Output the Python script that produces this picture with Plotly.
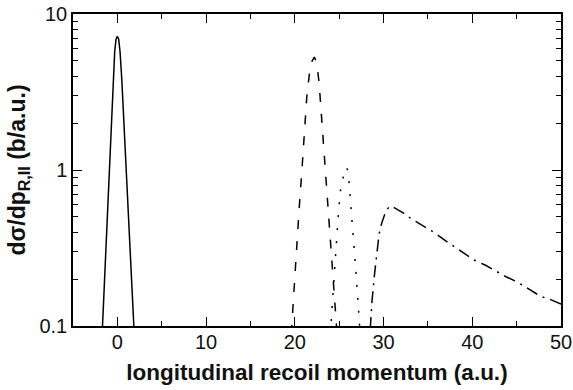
import plotly.graph_objects as go

# Solid curve (peak near 0)
x_solid = [-1.7, -1.3, -0.9, -0.5, -0.3, -0.15, 0.0, 0.15, 0.3, 0.5, 0.95, 1.4, 1.9]
y_solid = [0.093, 0.32, 1.12, 3.6, 5.75, 6.9, 7.2, 6.9, 5.75, 3.8, 1.2, 0.35, 0.089]

# Dashed curve (peak near 22)
x_dash = [19.6, 19.83, 20.14, 20.48, 20.85, 21.15, 21.35, 21.65, 21.95, 22.2,
          22.48, 22.74, 22.93, 23.11, 23.27, 23.45, 23.6, 23.87, 24.1, 24.29, 24.47, 24.7]
y_dash = [0.089, 0.147, 0.285, 0.555, 1.10, 2.14, 2.95, 4.17, 5.0, 5.3,
          4.83, 3.6, 2.55, 1.85, 1.31, 0.953, 0.675, 0.479, 0.302, 0.209, 0.151, 0.1]

# Dotted curve (peak near 25.8)
x_dot = [24.0, 24.3, 24.6, 24.9, 25.15, 25.4, 25.6, 25.8, 25.95, 26.1, 26.3, 26.55, 26.8, 27.05, 27.3]
y_dot = [0.089, 0.166, 0.295, 0.513, 0.74, 0.9, 0.99, 1.04, 1.0, 0.85, 0.62, 0.41, 0.26, 0.165, 0.1]

# Dash-dot curve (peak near 30.8, long tail)
x_dd = [28.5, 28.7, 29.0, 29.2, 29.5, 29.8, 30.1, 30.5, 30.8, 31.3, 32.3, 33.2, 34.35, 35.7,
        37.4, 39.25, 40.2, 41.5, 42.65, 43.8, 45.1, 46.2, 47.7, 48.9, 50.0]
y_dd = [0.0955, 0.1445, 0.219, 0.275, 0.389, 0.457, 0.513, 0.569, 0.589, 0.569, 0.527, 0.483,
        0.444, 0.398, 0.339, 0.288, 0.265, 0.245, 0.225, 0.207, 0.191, 0.175, 0.155, 0.147, 0.138]

x_ticks = [0, 10, 20, 30, 40, 50]
x_minor = [-5, 5, 15, 25, 35, 45]
y_ticks = [0.1, 1, 10]
y_tick_labels = ["0.1", "1", "10"]
y_minor = [0.2, 0.3, 0.4, 0.5, 0.6, 0.7, 0.8, 0.9, 2, 3, 4, 5, 6, 7, 8, 9]

FONT = "Liberation Sans, Arial, sans-serif"

fig = go.Figure()
fig.add_trace(go.Scatter(x=x_solid, y=y_solid, mode="lines",
                         line=dict(color="black", width=1.5)))
fig.add_trace(go.Scatter(x=x_dash, y=y_dash, mode="lines",
                         line=dict(color="black", width=1.5, dash="9px,12px")))
fig.add_trace(go.Scatter(x=x_dot, y=y_dot, mode="lines",
                         line=dict(color="black", width=1.5, dash="2px,11px")))
fig.add_trace(go.Scatter(x=x_dd, y=y_dd, mode="lines",
                         line=dict(color="black", width=1.5, dash="12px,6px,2px,6px")))

fig.update_layout(
    width=573, height=390,
    margin=dict(l=73, r=12, t=14, b=64),
    paper_bgcolor="white", plot_bgcolor="white",
    showlegend=False,
    font=dict(family=FONT, size=20, color="#111"),
)
fig.update_xaxes(
    range=[-5, 50], tickmode="array", tickvals=x_ticks, automargin=False,
    ticks="inside", ticklen=9, tickwidth=1.2, tickcolor="black",
    showline=True, linecolor="black", linewidth=1.5, mirror="ticks",
    showgrid=False, zeroline=False, ticklabelstandoff=-3,
    minor=dict(ticks="inside", ticklen=5, tickwidth=1.2, tickcolor="black",
               tickvals=x_minor, showgrid=False),
    title=dict(text="longitudinal recoil momentum (a.u.)",
               font=dict(family=FONT, size=22.5, weight="bold"), standoff=12),
    tickfont=dict(family=FONT, size=20),
)
fig.update_yaxes(
    type="log", range=[-1, 1], tickmode="array", tickvals=y_ticks, ticktext=y_tick_labels,
    automargin=False,
    ticks="inside", ticklen=9, tickwidth=1.2, tickcolor="black",
    showline=True, linecolor="black", linewidth=1.5, mirror="ticks",
    showgrid=False, zeroline=False,
    minor=dict(ticks="inside", ticklen=5, tickwidth=1.2, tickcolor="black",
               tickvals=y_minor, showgrid=False),
    title=dict(text="dσ/dp<sub>R,II</sub> (b/a.u.)",
               font=dict(family=FONT, size=23, weight="bold"), standoff=7),
    tickfont=dict(family=FONT, size=20),
)

fig.write_html("out.html")
